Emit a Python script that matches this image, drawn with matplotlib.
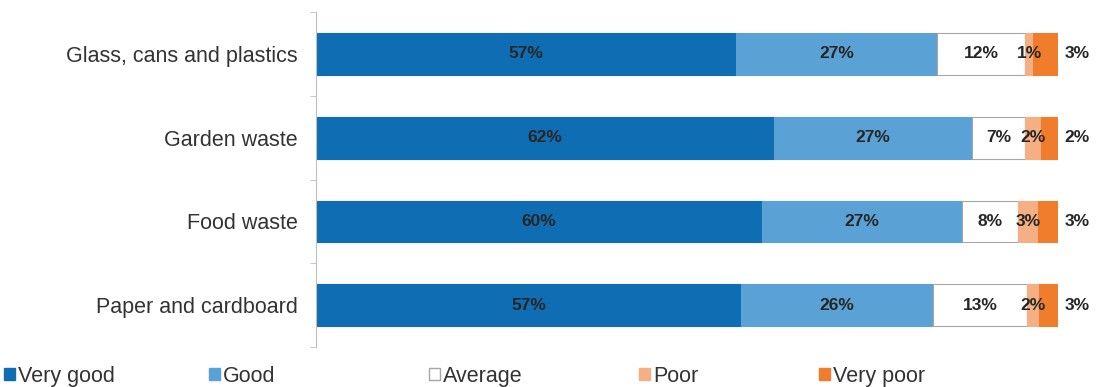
import numpy as np
import matplotlib.pyplot as plt
from matplotlib.patches import Patch

plt.rcParams['font.family'] = ['Liberation Sans', 'DejaVu Sans']

# data (top to bottom)
categories = ['Glass, cans and plastics', 'Garden waste', 'Food waste', 'Paper and cardboard']
series = ['Very good', 'Good', 'Average', 'Poor', 'Very poor']
very_good = [56.6, 61.8, 60.1, 57.3]
good = [27.1, 26.6, 27.0, 25.9]
average = [11.9, 7.2, 7.6, 12.6]
poor = [1.1, 2.1, 2.6, 1.6]
very_poor = [3.3, 2.3, 2.7, 2.6]

values = [very_good, good, average, poor, very_poor]
colors = ['#0F6DB3', '#5AA2D6', '#FFFFFF', '#F4B084', '#F07D2C']
edges = ['#0F6DB3', '#5AA2D6', '#A6A6A6', '#F4B084', '#F07D2C']

fig = plt.figure(figsize=(10.99, 3.87), dpi=100)
ax = fig.add_axes([0.2875, 0.103, 0.675, 0.866])

y = np.arange(len(categories))
left = np.zeros(len(categories))
for i, (name, vals) in enumerate(zip(series, values)):
    vals = np.array(vals)
    bars = ax.barh(y, vals, left=left, height=0.5, color=colors[i],
                   edgecolor=edges[i], linewidth=0.8, label=name)
    for j, b in enumerate(bars):
        txt = f'{vals[j]:.0f}%'
        if name == 'Very poor':
            ax.text(left[j] + vals[j] + 0.9, y[j], txt, ha='left', va='center',
                    fontsize=12.5, fontweight='bold', color='#262626')
        else:
            ax.text(left[j] + vals[j] / 2, y[j], txt, ha='center', va='center',
                    fontsize=12.5, fontweight='bold', color='#262626')
    left += vals

ax.set_xlim(0, 100)
ax.set_ylim(len(categories) - 0.5, -0.5)
ax.set_yticks(y)
ax.set_yticklabels(categories, fontsize=15.5, color='#333333')
ax.set_yticks(np.arange(-0.5, len(categories)), minor=True)
ax.tick_params(axis='y', which='major', length=0, pad=13)
ax.tick_params(axis='y', which='minor', length=4, color='#BFBFBF')
ax.set_xticks([])
for s in ['top', 'right', 'bottom']:
    ax.spines[s].set_visible(False)
ax.spines['left'].set_color('#BFBFBF')

# legend entries placed one by one, like the spaced-out reference legend
leg_x = [4, 209, 429, 639, 819]
for i in range(5):
    h = Patch(facecolor=colors[i], edgecolor=edges[i], label=series[i])
    fig.legend(handles=[h], loc='upper left', bbox_to_anchor=(leg_x[i] / 1099, 21 / 387),
               frameon=False, fontsize=15.5, handlelength=0.5, handleheight=0.5,
               handletextpad=0.15, borderaxespad=0, borderpad=0, labelcolor='#333333')

fig.savefig('out.png', dpi=100)
